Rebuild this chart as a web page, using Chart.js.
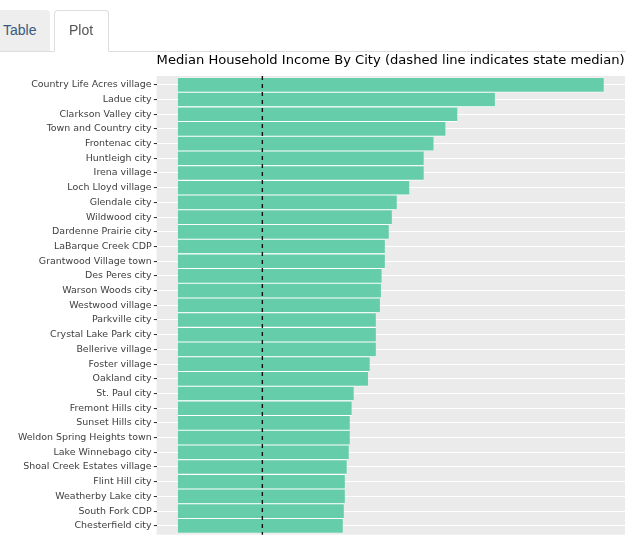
<!DOCTYPE html>
<html>
<head>
<meta charset="utf-8">
<script src="https://cdn.jsdelivr.net/npm/chart.js@4/dist/chart.umd.min.js"></script>
<style>
  html, body { margin: 0; padding: 0; background: #fff; overflow: hidden; }
  body { width: 626px; height: 536px; position: relative; font-family: "Liberation Sans", Arial, sans-serif; font-size: 14px; }
  .navline { position: absolute; left: 0; top: 51px; width: 626px; height: 1px; background: #ddd; z-index: 2; }
  .tab { position: absolute; top: 10px; box-sizing: border-box; height: 41px; padding: 10px 15px; line-height: 20px; border-radius: 4px 4px 0 0; z-index: 3; }
  .tab.off { left: -12px; width: 62px; background: #eee; color: #375a7f; }
  .tab.on { left: 54px; width: 55px; height: 42px; background: #fff; color: #555; border: 1px solid #ddd; border-bottom-color: transparent; padding: 9px 14px; }
  #wrap { position: absolute; left: 0; top: 0; width: 628px; height: 600px; z-index: 1; }
</style>
</head>
<body>
<div class="navline"></div>
<div class="tab off">Table</div>
<div class="tab on">Plot</div>
<div id="wrap"><canvas id="incomeChart" width="628" height="600"></canvas></div>
<script>
const cities = [
  "Country Life Acres village", "Ladue city", "Clarkson Valley city", "Town and Country city",
  "Frontenac city", "Huntleigh city", "Irena village", "Loch Lloyd village", "Glendale city",
  "Wildwood city", "Dardenne Prairie city", "LaBarque Creek CDP", "Grantwood Village town",
  "Des Peres city", "Warson Woods city", "Westwood village", "Parkville city",
  "Crystal Lake Park city", "Bellerive village", "Foster village", "Oakland city",
  "St. Paul city", "Fremont Hills city", "Sunset Hills city", "Weldon Spring Heights town",
  "Lake Winnebago city", "Shoal Creek Estates village", "Flint Hill city", "Weatherby Lake city",
  "South Fork CDP", "Chesterfield city"
];
const incomes = [
  250001, 186100, 164100, 157100,
  150100, 144300, 144300, 135900, 128500,
  125600, 123800, 121500, 121500,
  119600, 119200, 118600, 116200,
  116200, 116200, 112600, 111600,
  103200, 102000, 100900, 100900,
  100300, 99100, 98000, 98000,
  97400, 96800
];
const stateMedian = 49593;
const xMin = -12500, xMax = 262501;

const panelBg = {
  id: 'panelBg',
  beforeDraw(chart) {
    const { ctx, chartArea: a } = chart;
    const step = (a.bottom - a.top) / cities.length;
    ctx.save();
    ctx.fillStyle = '#EBEBEB';
    ctx.fillRect(a.left, a.top - 0.1 * step, a.right - a.left, a.bottom - a.top + 0.2 * step);
    ctx.restore();
  }
};

// dashed vertical line for the state median
const medianLine = {
  id: 'medianLine',
  afterDatasetsDraw(chart) {
    const { ctx, chartArea: a, scales } = chart;
    const step = (a.bottom - a.top) / cities.length;
    const x = scales.x.getPixelForValue(stateMedian);
    ctx.save();
    ctx.strokeStyle = '#111';
    ctx.lineWidth = 1.4;
    ctx.setLineDash([4, 4]);
    ctx.beginPath();
    ctx.moveTo(x, a.top - 0.1 * step);
    ctx.lineTo(x, a.bottom + 0.1 * step);
    ctx.stroke();
    ctx.restore();
  }
};

new Chart(document.getElementById('incomeChart'), {
  type: 'bar',
  data: {
    labels: cities,
    datasets: [{
      data: incomes,
      backgroundColor: '#66CDAA',
      borderColor: '#ffffff',
      borderWidth: { top: 0.85, bottom: 0.85, left: 0, right: 0 },
      borderSkipped: false,
      barPercentage: 1,
      categoryPercentage: 1
    }]
  },
  options: {
    indexAxis: 'y',
    responsive: false,
    animation: false,
    devicePixelRatio: 1,
    layout: { padding: 0 },
    plugins: {
      legend: { display: false },
      tooltip: { enabled: false },
      title: {
        display: true,
        text: 'Median Household Income By City (dashed line indicates state median)',
        align: 'start',
        fullSize: false,
        color: '#000',
        font: { family: 'DejaVu Sans', size: 13.1, weight: 'normal', lineHeight: 1.2 },
        padding: { top: 53, bottom: 8.75 }
      }
    },
    scales: {
      x: {
        type: 'linear',
        min: xMin,
        max: xMax,
        border: { display: false },
        grid: {
          color: ctx => (ctx.tick && ctx.tick.value % 25000 === 0) ? '#ffffff' : 'rgba(0,0,0,0)',
          lineWidth: ctx => (ctx.tick && ctx.tick.value % 50000 === 0) ? 1.2 : 0.6,
          drawTicks: false
        },
        ticks: {
          stepSize: 25000,
          includeBounds: false,
          autoSkip: false,
          maxRotation: 0,
          color: '#4D4D4D',
          font: { family: 'DejaVu Sans', size: 9.4 },
          callback: v => v % 50000 === 0 ? v : ''
        },
        afterFit: s => { s.height = 600 - (77.47 + cities.length * 14.7); }
      },
      y: {
        type: 'category',
        offset: true,
        border: { display: false },
        grid: {
          offset: false,
          color: '#ffffff',
          lineWidth: 1.07,
          tickLength: 2.75,
          tickColor: '#333333',
          tickWidth: 1.07
        },
        ticks: {
          autoSkip: false,
          padding: 2.2,
          color: '#404040',
          font: { family: 'DejaVu Sans', size: 9.45 }
        },
        afterFit: s => { s.width = 156.6; }
      }
    }
  },
  plugins: [panelBg, medianLine]
});
</script>
</body>
</html>
